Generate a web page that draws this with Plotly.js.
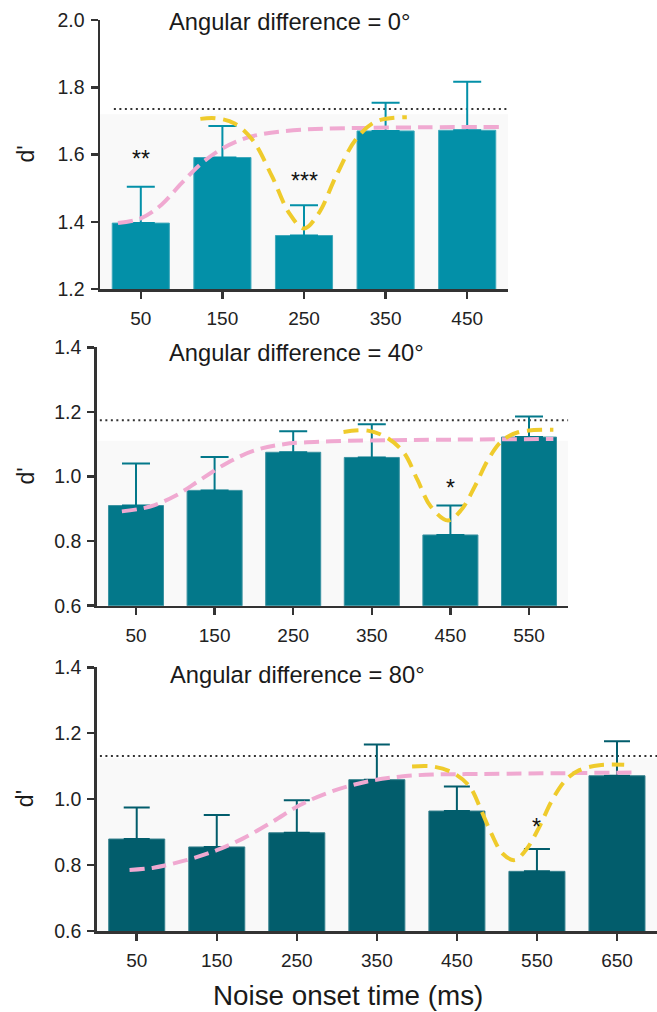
<!DOCTYPE html>
<html>
<head>
<meta charset="utf-8">
<script src="https://cdn.plot.ly/plotly-3.0.1.min.js"></script>
<style>html,body{margin:0;padding:0;background:#fff;}#chart{width:657px;height:1012px;}</style>
</head>
<body>
<div id="chart"></div>
<script>
// ---------- DATA ----------
// Panel 1: Angular difference = 0°
const onset1 = [50, 150, 250, 350, 450];
const dprime1 = [1.396, 1.591, 1.359, 1.670, 1.672];
const errTop1 = [1.504, 1.685, 1.449, 1.754, 1.816];
const ref1 = 1.735;
const shade1 = 1.72;
const pinkX1 = [22, 50, 75, 100, 125, 150, 175, 200, 250, 300, 400, 489];
const pinkY1 = [1.396, 1.410, 1.450, 1.515, 1.575, 1.618, 1.646, 1.661, 1.674, 1.678, 1.681, 1.682];
const yelX1 = [123, 142, 165, 187, 211, 232, 250, 268, 289, 313, 338, 376];
const yelY1 = [1.706, 1.708, 1.692, 1.643, 1.534, 1.425, 1.380, 1.425, 1.534, 1.643, 1.698, 1.711];

// Panel 2: Angular difference = 40°
const onset2 = [50, 150, 250, 350, 450, 550];
const dprime2 = [0.910, 0.957, 1.075, 1.059, 0.819, 1.122];
const errTop2 = [1.040, 1.060, 1.140, 1.162, 0.910, 1.186];
const ref2 = 1.174;
const shade2 = 1.111;
const pinkX2 = [32, 68, 102, 132, 166, 200, 238, 298, 400, 581];
const pinkY2 = [0.892, 0.907, 0.943, 0.990, 1.042, 1.080, 1.100, 1.109, 1.113, 1.116];
const yelX2 = [314, 345, 370, 391, 408, 425, 447, 464, 481, 498, 515, 536, 581];
const yelY2 = [1.138, 1.142, 1.119, 1.073, 0.990, 0.907, 0.864, 0.897, 0.969, 1.052, 1.109, 1.137, 1.145];

// Panel 3: Angular difference = 80°
const onset3 = [50, 150, 250, 350, 450, 550, 650];
const dprime3 = [0.879, 0.855, 0.898, 1.059, 0.964, 0.781, 1.071];
const errTop3 = [0.975, 0.952, 0.997, 1.166, 1.038, 0.849, 1.176];
const ref3 = 1.131;
const shade3 = 1.124;
const pinkX3 = [41, 71, 112, 150, 183, 220, 254, 293, 337, 378, 420, 461, 675];
const pinkY3 = [0.785, 0.792, 0.815, 0.845, 0.881, 0.932, 0.982, 1.023, 1.053, 1.068, 1.075, 1.076, 1.081];
const yelX3 = [394, 420, 445, 466, 480, 493, 507, 522, 536, 553, 569, 586, 603, 628, 659];
const yelY3 = [1.099, 1.099, 1.080, 1.038, 0.968, 0.896, 0.835, 0.815, 0.845, 0.916, 0.997, 1.058, 1.088, 1.103, 1.104];

// Significance markers
const sigText = ['**', '***', '*', '*'];
const sigPanel = [1, 1, 2, 3];
const sigX = [50, 250, 450, 550];
const sigY = [1.588, 1.522, 0.963, 0.917];

const titles = ['Angular difference = 0°', 'Angular difference = 40°', 'Angular difference = 80°'];
const yRanges = [[1.2, 2.0], [0.6, 1.4], [0.6, 1.4]];
const xRanges = [[0, 500], [0, 600], [0, 700]];
const yTicks = [[1.2, 1.4, 1.6, 1.8, 2.0], [0.6, 0.8, 1.0, 1.2, 1.4], [0.6, 0.8, 1.0, 1.2, 1.4]];

// ---------- STYLE ----------
const barColors = ['#0390a8', '#03788a', '#025d6c'];
const barEdge = ['#3fa9bb', '#3a92a1', '#36808d'];
const pinkColor = '#f0a9d1';
const yellowColor = '#efcb2c';
const axisColor = '#333333';
const FONT = 'Liberation Sans, Arial, Helvetica, sans-serif';

const panels = [
  {x: onset1, y: dprime1, e: errTop1, ref: ref1, shade: shade1, px: pinkX1, py: pinkY1, yx: yelX1, yy: yelY1},
  {x: onset2, y: dprime2, e: errTop2, ref: ref2, shade: shade2, px: pinkX2, py: pinkY2, yx: yelX2, yy: yelY2},
  {x: onset3, y: dprime3, e: errTop3, ref: ref3, shade: shade3, px: pinkX3, py: pinkY3, yx: yelX3, yy: yelY3}
];

// pixel geometry of the three plot areas
const W = 657, H = 1012;
const boxes = [
  {x0: 100, x1: 508, y0: 20, y1: 289},
  {x0: 96.7, x1: 568.3, y0: 347.3, y1: 605.7},
  {x0: 96.7, x1: 657, y0: 667.3, y1: 931}
];
const errW = [14, 14, 13];

const traces = [];
const shapes = [];
const annotations = [];
const layout = {
  width: W, height: H,
  margin: {l: 0, r: 0, t: 0, b: 0, pad: 0},
  paper_bgcolor: '#ffffff',
  plot_bgcolor: 'rgba(0,0,0,0)',
  showlegend: false,
  font: {family: FONT, color: '#222222'}
};

panels.forEach((p, i) => {
  const k = i + 1;
  const xa = 'x' + (k === 1 ? '' : k);
  const ya = 'y' + (k === 1 ? '' : k);
  const b = boxes[i];

  layout['xaxis' + (k === 1 ? '' : k)] = {
    domain: [b.x0 / W, Math.min(1, b.x1 / W)],
    anchor: ya,
    range: xRanges[i],
    tickvals: p.x,
    ticktext: p.x.map(String),
    showline: true, linecolor: axisColor, linewidth: 2.5,
    ticks: 'outside', ticklen: 7, tickwidth: 2.5, tickcolor: axisColor,
    showgrid: false, zeroline: false, fixedrange: true,
    tickfont: {family: FONT, size: 19, color: '#222222'},
    ticklabelstandoff: 4
  };
  layout['yaxis' + (k === 1 ? '' : k)] = {
    domain: [1 - b.y1 / H, 1 - b.y0 / H],
    anchor: xa,
    range: yRanges[i],
    tickvals: yTicks[i],
    tickformat: '.1f',
    showline: true, linecolor: axisColor, linewidth: 2.5,
    ticks: 'outside', ticklen: 7, tickwidth: 2.5, tickcolor: axisColor,
    showgrid: false, zeroline: false, fixedrange: true,
    tickfont: {family: FONT, size: 19.5, color: '#222222'},
    ticklabelstandoff: 2
  };

  // light grey shaded band
  shapes.push({type: 'rect', xref: xa, yref: ya, layer: 'below',
    x0: xRanges[i][0], x1: xRanges[i][1], y0: yRanges[i][0], y1: p.shade,
    fillcolor: '#f9f9f9', line: {width: 0}});
  // dotted reference line
  shapes.push({type: 'line', xref: xa, yref: ya, layer: 'below',
    x0: (i === 0 ? 17 : 4), x1: xRanges[i][1], y0: p.ref, y1: p.ref,
    line: {color: '#333333', width: 2, dash: '2px,3.5px'}});

  traces.push({
    type: 'bar', x: p.x, y: p.y, xaxis: xa, yaxis: ya,
    width: 70,
    marker: {color: barColors[i], line: {color: barEdge[i], width: 1}},
    error_y: {type: 'data', symmetric: false,
      array: p.e.map((v, j) => v - p.y[j]),
      arrayminus: p.y.map(() => 0),
      color: barColors[i], thickness: 2, width: errW[i]},
    hoverinfo: 'skip'
  });
  traces.push({
    type: 'scatter', mode: 'lines', x: p.px, y: p.py, xaxis: xa, yaxis: ya,
    line: {color: pinkColor, width: 4, dash: '15px,7px', shape: 'spline', smoothing: 1},
    hoverinfo: 'skip'
  });
  traces.push({
    type: 'scatter', mode: 'lines', x: p.yx, y: p.yy, xaxis: xa, yaxis: ya,
    line: {color: yellowColor, width: 4, dash: '15px,8px', shape: 'spline', smoothing: 1},
    hoverinfo: 'skip'
  });

  // panel title
  const titleCenters = [[289.5, 22], [296.5, 353], [297, 675]];
  annotations.push({xref: 'paper', yref: 'paper',
    x: titleCenters[i][0] / W, y: 1 - titleCenters[i][1] / H,
    xanchor: 'center', yanchor: 'middle', showarrow: false,
    text: titles[i], font: {family: FONT, size: 23.7, color: '#1a1a1a'}});
  // y-axis label d'
  annotations.push({xref: 'paper', yref: 'paper',
    x: 25 / W, y: 1 - ((b.y0 + b.y1) / 2) / H,
    xanchor: 'center', yanchor: 'middle', showarrow: false, textangle: -90,
    text: "d'", font: {family: FONT, size: 23, color: '#1a1a1a'}});
});

// significance stars
sigText.forEach((t, j) => {
  const k = sigPanel[j];
  annotations.push({xref: 'x' + (k === 1 ? '' : k), yref: 'y' + (k === 1 ? '' : k),
    x: sigX[j], y: sigY[j], xanchor: 'center', yanchor: 'middle', showarrow: false,
    text: t, font: {family: FONT, size: 23, color: '#111111'}});
});

// x-axis title
annotations.push({xref: 'paper', yref: 'paper', x: 348 / W, y: 1 - 995 / H,
  xanchor: 'center', yanchor: 'middle', showarrow: false,
  text: 'Noise onset time (ms)', font: {family: FONT, size: 27.8, color: '#1a1a1a'}});

layout.shapes = shapes;
layout.annotations = annotations;

Plotly.newPlot('chart', traces, layout, {displayModeBar: false, staticPlot: true});
</script>
</body>
</html>
